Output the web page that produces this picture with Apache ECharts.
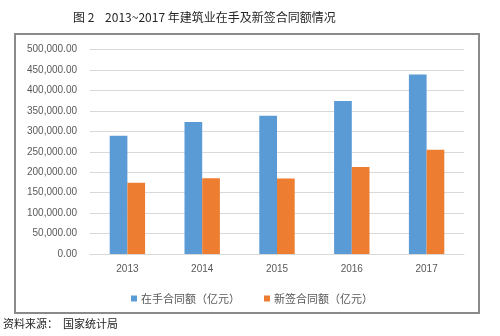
<!DOCTYPE html>
<html>
<head>
<meta charset="utf-8">
<script src="https://cdn.jsdelivr.net/npm/echarts@6/dist/echarts.min.js"></script>
<style>
  html, body { margin: 0; padding: 0; background: #fff; }
  #chart { width: 500px; height: 336px; }
</style>
</head>
<body>
<div id="chart"></div>
<script>
// 2013~2017 建筑业在手及新签合同额（亿元）
const years = ['2013', '2014', '2015', '2016', '2017'];
const onHand = [289000, 323000, 338000, 374000, 439000];
const newSigned = [174000, 185000, 184500, 212800, 254600];
const seriesNames = ['在手合同额（亿元）', '新签合同额（亿元）'];
const yTicks = [0, 50000, 100000, 150000, 200000, 250000, 300000, 350000, 400000, 450000, 500000];

const cjk = '"Noto Sans CJK SC", sans-serif';
const latin = '"Liberation Sans", "DejaVu Sans", sans-serif';

function fmt(v) {
  return v.toLocaleString('en-US', { minimumFractionDigits: 2, maximumFractionDigits: 2 });
}

const chart = echarts.init(document.getElementById('chart'), null, { renderer: 'canvas' });
chart.setOption({
  backgroundColor: '#ffffff',
  animation: false,
  title: {
    text: '图 2    2013~2017 年建筑业在手及新签合同额情况',
    left: 68,
    top: 6,
    textStyle: { fontFamily: cjk, fontSize: 12, fontWeight: 'normal', color: '#262626' }
  },
  graphic: [
    {
      type: 'rect',
      shape: { x: 15, y: 34, width: 464, height: 279 },
      style: { fill: 'none', stroke: '#8a8a8a', lineWidth: 2 },
      silent: true
    },
    {
      type: 'text',
      left: 3,
      top: 318,
      style: { text: '资料来源：  国家统计局', font: '11px ' + cjk, fill: '#262626' }
    }
  ],
  legend: {
    data: seriesNames,
    left: 126,
    top: 288,
    icon: 'rect',
    itemWidth: 6,
    itemHeight: 6,
    itemGap: 24,
    textStyle: { fontFamily: cjk, fontSize: 11, color: '#595959', padding: [0, 0, 0, -1] }
  },
  grid: { left: 90, right: 36, top: 49.5, bottom: 82, containLabel: false },
  xAxis: {
    type: 'category',
    data: years,
    axisLine: { lineStyle: { color: '#d9d9d9', width: 1 } },
    axisTick: { show: false },
    axisLabel: { color: '#595959', fontFamily: latin, fontSize: 10, margin: 10 }
  },
  yAxis: {
    type: 'value',
    min: yTicks[0],
    max: yTicks[yTicks.length - 1],
    interval: yTicks[1] - yTicks[0],
    axisLine: { show: false },
    axisTick: { show: false },
    splitLine: { lineStyle: { color: '#d9d9d9', width: 1 } },
    axisLabel: { color: '#595959', fontFamily: latin, fontSize: 10, margin: 13, formatter: fmt }
  },
  series: [
    {
      name: seriesNames[0],
      type: 'bar',
      data: onHand,
      barWidth: 17.7,
      barGap: '0%',
      itemStyle: { color: '#5b9bd5' }
    },
    {
      name: seriesNames[1],
      type: 'bar',
      data: newSigned,
      barWidth: 17.7,
      itemStyle: { color: '#ed7d31' }
    }
  ]
});
</script>
</body>
</html>
